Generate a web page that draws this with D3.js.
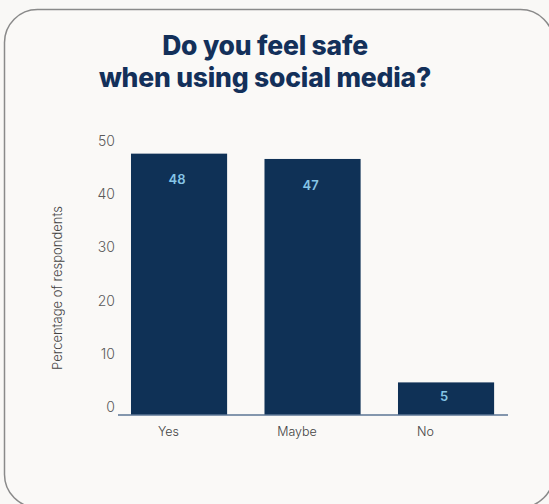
<!DOCTYPE html>
<html>
<head>
<meta charset="utf-8">
<script src="https://cdn.jsdelivr.net/npm/d3@7/dist/d3.min.js"></script>
<style>
html,body{margin:0;padding:0;background:#f9f8f6;}
svg{display:block;}
</style>
</head>
<body>
<svg id="chart" width="549" height="504"></svg>
<script>
const categories = ["Yes", "Maybe", "No"];
const values = [48, 47, 5];
const yTicks = [0, 10, 20, 30, 40, 50];
const titleLines = ["Do you feel safe", "when using social media?"];
const yTitle = "Percentage of respondents";

const svg = d3.select("#chart");

// card
svg.append("rect")
  .attr("x", 4.5).attr("y", 9.5)
  .attr("width", 549).attr("height", 498)
  .attr("rx", 33).attr("ry", 33)
  .attr("fill", "#faf9f7")
  .attr("stroke", "#8a8a8a").attr("stroke-width", 1.5);

// title
svg.append("g").selectAll("text").data(titleLines).join("text")
  .attr("x", 265)
  .attr("y", (d, i) => 55 + i * 32)
  .attr("text-anchor", "middle")
  .attr("font-family", "Inter, 'Noto Sans', sans-serif")
  .attr("font-weight", 800)
  .attr("font-size", 26.5)
  .attr("letter-spacing", -0.2)
  .attr("fill", "#13305a")
  .text(d => d);

const baseY = 415;
const y = d3.scaleLinear().domain([0, 50]).range([409, 143]);
const x = d3.scaleBand().domain(categories).range([112.3, 512.8]).paddingInner(0.28).paddingOuter(0.14);
const xLabel = d3.scalePoint().domain(categories).range([168, 425]);

// y axis tick labels
const yAxis = d3.axisLeft(y).tickValues(yTicks).tickSize(0).tickPadding(0);
const gy = svg.append("g").attr("transform", "translate(115,-2)").call(yAxis);
gy.select(".domain").remove();
gy.selectAll("text")
  .attr("font-family", "Inter, 'Noto Sans', sans-serif")
  .attr("font-weight", 300)
  .attr("font-size", 14)
  .attr("fill", "#5a5a5a");

// y title
svg.append("text")
  .attr("transform", "translate(62,288) rotate(-90)")
  .attr("text-anchor", "middle")
  .attr("font-family", "Inter, 'Noto Sans', sans-serif")
  .attr("font-weight", 300)
  .attr("font-size", 13)
  .attr("fill", "#444")
  .text(yTitle);

// bars
const data = categories.map((c, i) => ({c, v: values[i]}));
svg.append("g").selectAll("rect").data(data).join("rect")
  .attr("x", d => x(d.c))
  .attr("y", d => y(d.v))
  .attr("width", x.bandwidth())
  .attr("height", d => baseY - y(d.v))
  .attr("fill", "#0f3156");

// value labels
svg.append("g").selectAll("text").data(data).join("text")
  .attr("x", d => x(d.c) + x.bandwidth() / 2 - 2)
  .attr("y", d => Math.min(y(d.v) + 26, (y(d.v) + baseY) / 2 - 2))
  .attr("dy", "0.35em")
  .attr("text-anchor", "middle")
  .attr("font-family", "Inter, 'Noto Sans', sans-serif")
  .attr("font-weight", 600)
  .attr("font-size", 13)
  .attr("fill", "#86c5e6")
  .text(d => d.v);

// axis line
svg.append("line")
  .attr("x1", 118).attr("x2", 508)
  .attr("y1", baseY).attr("y2", baseY)
  .attr("stroke", "#5b7594").attr("stroke-width", 1.3);

// category labels
const xAxis = d3.axisBottom(xLabel).tickSize(0).tickPadding(0);
const gx = svg.append("g").attr("transform", "translate(0,427)").call(xAxis);
gx.select(".domain").remove();
gx.selectAll("text")
  .attr("font-family", "Inter, 'Noto Sans', sans-serif")
  .attr("font-weight", 300)
  .attr("font-size", 12.5)
  .attr("fill", "#444")
  .attr("dy", "0.71em");
</script>
</body>
</html>
